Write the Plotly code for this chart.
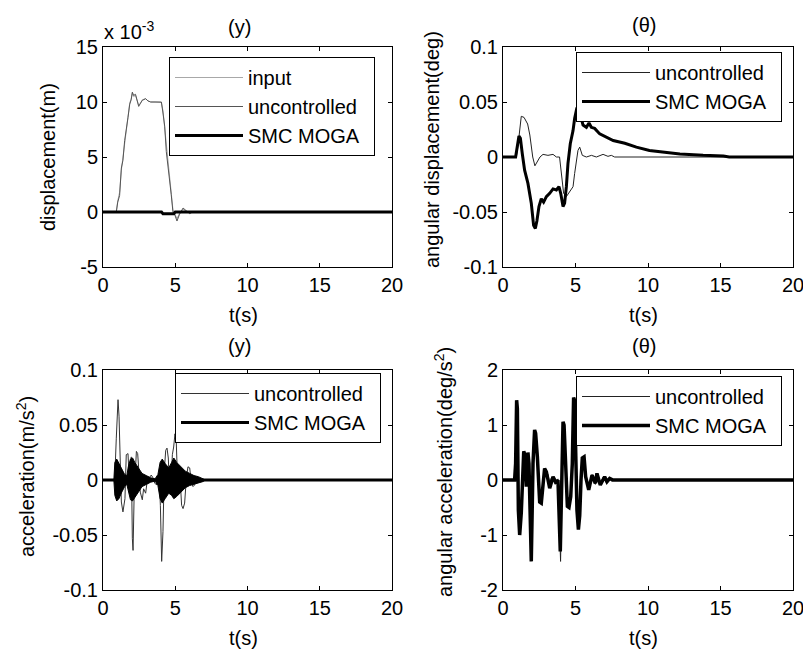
import plotly.graph_objects as go

FONT = "Liberation Sans, Arial, sans-serif"

# ---- (y) displacement, values in units of 1e-3 m ----
t_disp = [0, 0.92, 1.02, 1.15, 1.27, 1.38, 1.5, 1.61, 1.73, 1.85, 1.95, 2.03, 2.12, 2.25,
          2.47, 2.6, 2.72, 2.95, 3.11, 3.3, 3.6, 3.9, 4.04, 4.15, 4.27, 4.38, 4.5, 4.61,
          4.72, 4.84, 4.98, 5.12, 5.3, 5.54, 5.77, 6.0, 6.2, 20]
disp_input = [0, 0, 1.0, 1.8, 3.8, 4.9, 6.3, 7.6, 8.5, 9.9, 10.3, 10.8, 10.5, 10.6,
              9.7, 9.9, 10.2, 10.3, 10.1, 10.0, 10.0, 10.0, 9.95, 9.2, 7.6, 5.7, 4.1, 3.0,
              1.4, 0.2, -0.2, -0.6, -0.1, 0.25, 0.05, -0.1, 0, 0]
disp_unc = [0, 0, 0.9, 1.5, 4.0, 4.7, 6.5, 7.4, 8.6, 9.8, 10.2, 10.9, 10.6, 10.7,
            9.6, 9.9, 10.15, 10.3, 10.1, 10.0, 10.0, 10.0, 10.0, 9.0, 7.8, 5.5, 4.3, 2.8,
            1.6, 0.0, -0.3, -0.82, -0.2, 0.36, 0.1, -0.15, 0, 0]
t_disp_smc = [0, 4.05, 4.15, 4.9, 5.0, 20]
disp_smc = [0, 0, -0.15, -0.15, 0, 0]

# ---- (theta) angular displacement, deg ----
t_ang_u = [0, 0.92, 1.03, 1.26, 1.45, 1.7, 1.85, 2.05, 2.2, 2.35, 2.55, 2.76, 3.1, 3.45,
           3.68, 3.9, 4.09, 4.18, 4.37, 4.6, 4.83, 4.94, 5.17, 5.29, 5.47, 5.75, 6.1,
           6.44, 6.9, 7.24, 7.47, 7.7, 20]
ang_unc = [0, 0, 0.01, 0.037, 0.036, 0.03, 0.02, 0.0, -0.008, -0.005, 0.0, 0.0024, 0.0015,
           0.0024, 0.0, 0.0, -0.021, -0.033, -0.036, -0.032, -0.027, -0.015, 0.006, 0.009,
           0.0015, 0.0, 0.0015, 0.0, 0.0024, 0.0006, 0.0015, 0, 0]
t_ang_s = [0, 0.87, 1.1, 1.2, 1.33, 1.49, 1.72, 1.95, 2.11, 2.23, 2.34, 2.48, 2.64, 2.8,
           2.99, 3.22, 3.45, 3.68, 3.86, 3.98, 4.14, 4.25, 4.37, 4.48, 4.64, 4.83, 4.94,
           5.1, 5.3, 5.52, 5.75, 5.93, 6.09, 6.32, 6.67, 7.13, 7.6, 8.4, 9.2, 10.1, 11.0,
           12.2, 13.8, 15.2, 15.6, 20]
ang_smc = [0, 0, 0.019, 0.017, 0.003, -0.012, -0.024, -0.042, -0.062, -0.065, -0.058,
           -0.045, -0.038, -0.041, -0.036, -0.033, -0.029, -0.030, -0.027, -0.033, -0.045,
           -0.042, -0.027, -0.006, 0.012, 0.024, 0.035, 0.045, 0.04, 0.029, 0.027, 0.031,
           0.027, 0.026, 0.021, 0.018, 0.015, 0.0125, 0.009, 0.006, 0.0045, 0.0027, 0.0015,
           0.0009, 0, 0]

# ---- (y) acceleration, m/s^2 ----
t_acc_u = [0, 0.81, 0.92, 1.04, 1.11, 1.2, 1.27, 1.38, 1.52, 1.61, 1.73, 1.8, 1.89, 1.96,
           2.03, 2.08, 2.15, 2.24, 2.31, 2.4, 2.49, 2.58, 2.72, 2.81, 2.95, 3.05, 3.18,
           3.34, 3.46, 3.58, 3.74, 3.88, 3.97, 4.06, 4.15, 4.24, 4.34, 4.43, 4.52, 4.61,
           4.71, 4.8, 4.89, 4.98, 5.07, 5.17, 5.26, 5.35, 5.44, 5.54, 5.65, 5.77, 5.88,
           6.0, 6.11, 6.23, 6.34, 6.5, 6.69, 6.92, 20]
acc_unc = [0, 0, 0.038, 0.073, 0.058, 0.008, -0.02, -0.029, -0.017, 0.023, 0.024, 0.005,
           0.017, 0.021, -0.053, -0.064, -0.017, 0.017, 0.026, 0.024, 0.008, -0.011, -0.018,
           -0.008, -0.012, -0.002, 0.0015, 0.0045, 0.002, -0.003, -0.0045, 0.005, -0.023,
           -0.074, -0.047, 0.008, 0.027, 0.029, 0.02, -0.011, -0.002, 0.023, 0.03, 0.042,
           0.035, -0.005, -0.011, -0.002, -0.023, -0.026, -0.021, 0.002, 0.012, 0.011,
           -0.002, -0.006, -0.0045, 0.002, -0.0015, 0, 0]
# SMC MOGA response is a dense oscillation: upper / lower envelope
t_band = [0.75, 0.82, 0.95, 1.1, 1.3, 1.5, 1.65, 1.75, 1.9, 2.05, 2.2, 2.45, 2.7, 3.0,
          3.3, 3.6, 3.8, 3.95, 4.1, 4.3, 4.55, 4.75, 4.9, 5.1, 5.4, 5.7, 6.0, 6.3, 6.6,
          6.9, 7.1]
acc_smc_hi = [0, 0.016, 0.019, 0.015, 0.010, 0.005, 0.004, 0.012, 0.019, 0.020, 0.016,
              0.011, 0.006, 0.004, 0.002, 0.001, 0.005, 0.016, 0.019, 0.015, 0.011, 0.016,
              0.020, 0.016, 0.012, 0.008, 0.006, 0.004, 0.003, 0.0015, 0]
acc_smc_lo = [0, -0.014, -0.019, -0.017, -0.011, -0.006, -0.004, -0.011, -0.018, -0.019,
              -0.016, -0.011, -0.006, -0.004, -0.002, -0.001, -0.005, -0.017, -0.021,
              -0.017, -0.012, -0.014, -0.017, -0.015, -0.011, -0.007, -0.005, -0.004,
              -0.003, -0.0015, 0]

# ---- (theta) angular acceleration, deg/s^2 ----
t_aa_u = [0, 0.8, 0.87, 0.94, 0.99, 1.06, 1.15, 1.26, 1.43, 1.52, 1.61, 1.72, 1.79, 1.95,
          2.07, 2.18, 2.25, 2.37, 2.53, 2.64, 2.76, 2.87, 2.99, 3.1, 3.22, 3.35, 3.45, 3.6,
          3.79, 3.97, 4.14, 4.21, 4.28, 4.44, 4.55, 4.67, 4.78, 4.87, 4.94, 5.01, 5.1, 5.2,
          5.29, 5.38, 5.47, 5.59, 5.7, 5.91, 6.14, 6.37, 6.48, 6.71, 6.9, 7.1, 7.3, 7.5,
          7.8, 8.1, 20]
aa_unc = [0, 0, 0.25, 1.4, 1.25, -0.5, -0.95, -0.55, 0.5, 0.42, -0.1, 0.48, 0.28, -1.42,
          0.28, 0.88, 0.82, 0.4, -0.38, -0.4, 0.02, 0.1, 0.05, 0.1, -0.05, 0.05, 0.0, -0.08,
          0.02, -1.48, 1.0, 0.95, 0.5, -0.45, -0.48, -0.28, 0.28, 1.45, 1.4, 0.28, -0.5,
          -0.85, -0.6, 0.02, 0.38, 0.4, 0.05, -0.15, 0.1, -0.08, 0.1, -0.06, 0.05, -0.04,
          0.03, -0.02, 0.01, 0, 0]
t_aa_s = [0, 0.8, 0.87, 0.94, 0.99, 1.06, 1.15, 1.26, 1.43, 1.52, 1.61, 1.72, 1.79, 1.95,
          2.07, 2.18, 2.25, 2.37, 2.53, 2.64, 2.76, 2.87, 2.99, 3.22, 3.45, 3.68, 3.79,
          3.95, 4.14, 4.21, 4.28, 4.44, 4.55, 4.67, 4.78, 4.87, 4.94, 5.01, 5.1, 5.2, 5.29,
          5.38, 5.47, 5.59, 5.7, 5.91, 6.14, 6.37, 6.48, 6.71, 7.01, 7.17, 7.36, 7.59, 20]
aa_smc = [0, 0, 0.3, 1.45, 1.3, -0.55, -1.0, -0.6, 0.52, 0.45, -0.12, 0.5, 0.3, -1.48,
          0.3, 0.91, 0.85, 0.42, -0.4, -0.42, 0.0, 0.21, 0.15, -0.15, 0.06, -0.06, 0.0,
          -1.3, 1.06, 1.0, 0.55, -0.48, -0.5, -0.3, 0.3, 1.5, 1.45, 0.3, -0.55, -0.9, -0.65,
          0.0, 0.4, 0.42, 0.06, -0.18, 0.09, -0.06, 0.12, -0.09, 0.06, -0.03, 0.03, 0, 0]

GRAY_IN = "#a8a8a8"
GRAY_UN = "#555555"
PAD = "\u00a0\u00a0"  # a bit of room right of the legend text

fig = go.Figure()

# subplot 1
fig.add_trace(go.Scatter(x=t_disp, y=disp_input, mode="lines", name="input",
                         line=dict(color=GRAY_IN, width=1), xaxis="x", yaxis="y", legend="legend"))
fig.add_trace(go.Scatter(x=t_disp, y=disp_unc, mode="lines", name="uncontrolled" + PAD,
                         line=dict(color=GRAY_UN, width=1), xaxis="x", yaxis="y", legend="legend"))
fig.add_trace(go.Scatter(x=t_disp_smc, y=disp_smc, mode="lines", name="SMC MOGA",
                         line=dict(color="black", width=3), xaxis="x", yaxis="y", legend="legend"))

# subplot 2
fig.add_trace(go.Scatter(x=t_ang_u, y=ang_unc, mode="lines", name="uncontrolled" + PAD,
                         line=dict(color="#222222", width=1), xaxis="x2", yaxis="y2", legend="legend2"))
fig.add_trace(go.Scatter(x=t_ang_s, y=ang_smc, mode="lines", name="SMC MOGA",
                         line=dict(color="black", width=3), xaxis="x2", yaxis="y2", legend="legend2"))

# subplot 3
fig.add_trace(go.Scatter(x=t_acc_u, y=acc_unc, mode="lines", name="uncontrolled" + PAD,
                         line=dict(color="#333333", width=1), xaxis="x3", yaxis="y3", legend="legend3"))
fig.add_trace(go.Scatter(x=[0, 20], y=[0, 0], mode="lines", name="SMC MOGA",
                         line=dict(color="black", width=3), xaxis="x3", yaxis="y3", legend="legend3"))
fig.add_trace(go.Scatter(x=t_band, y=acc_smc_hi, mode="lines", showlegend=False,
                         line=dict(color="black", width=1), xaxis="x3", yaxis="y3"))
fig.add_trace(go.Scatter(x=t_band, y=acc_smc_lo, mode="lines", showlegend=False, fill="tonexty",
                         fillcolor="black", line=dict(color="black", width=1), xaxis="x3", yaxis="y3"))

# subplot 4
fig.add_trace(go.Scatter(x=t_aa_u, y=aa_unc, mode="lines", name="uncontrolled" + PAD,
                         line=dict(color="#222222", width=1), xaxis="x4", yaxis="y4", legend="legend4"))
fig.add_trace(go.Scatter(x=t_aa_s, y=aa_smc, mode="lines", name="SMC MOGA",
                         line=dict(color="black", width=3.5), xaxis="x4", yaxis="y4", legend="legend4"))

W, H = 803, 650


def px(v):
    return v / W


def py(v):
    return 1 - v / H


ax = dict(showgrid=False, zeroline=False, showline=True, linecolor="black", linewidth=1,
          mirror="ticks", ticks="inside", ticklen=4, tickcolor="black", automargin=False,
          ticklabeloverflow="allow", tickfont=dict(size=20, color="black", family=FONT))
xt = dict(range=[0, 20], tickvals=[0, 5, 10, 15, 20], ticktext=["0", "5", "10", "15", "20"])

xl = [px(103), px(392)]
xr = [px(503), px(793)]
yt = [py(267), py(47)]
yb = [py(590), py(370)]

fig.update_layout(
    xaxis=dict(ax, domain=xl, anchor="y", **xt),
    yaxis=dict(ax, domain=yt, anchor="x", range=[-5, 15], tickvals=[-5, 0, 5, 10, 15],
               ticktext=["-5", "0", "5", "10", "15"]),
    xaxis2=dict(ax, domain=xr, anchor="y2", **xt),
    yaxis2=dict(ax, domain=yt, anchor="x2", range=[-0.1, 0.1],
                tickvals=[-0.1, -0.05, 0, 0.05, 0.1], ticktext=["-0.1", "-0.05", "0", "0.05", "0.1"]),
    xaxis3=dict(ax, domain=xl, anchor="y3", **xt),
    yaxis3=dict(ax, domain=yb, anchor="x3", range=[-0.1, 0.1],
                tickvals=[-0.1, -0.05, 0, 0.05, 0.1], ticktext=["-0.1", "-0.05", "0", "0.05", "0.1"]),
    xaxis4=dict(ax, domain=xr, anchor="y4", **xt),
    yaxis4=dict(ax, domain=yb, anchor="x4", range=[-2, 2],
                tickvals=[-2, -1, 0, 1, 2], ticktext=["-2", "-1", "0", "1", "2"]),
)


def leg(x, y):
    return dict(x=px(x), y=py(y), xanchor="left", yanchor="top", bgcolor="white",
                bordercolor="black", borderwidth=1, itemwidth=68, tracegroupgap=0,
                traceorder="normal", font=dict(size=20, color="black", family=FONT))


fig.update_layout(legend=leg(169, 57), legend2=leg(576, 52), legend3=leg(175, 373),
                  legend4=leg(576, 376))

notes = [
    ("(y)", 240, 27, 0), ("(θ)", 644, 25, 0), ("(y)", 240, 346, 0), ("(θ)", 644, 346, 0),
    ("t(s)", 243, 315, 0), ("t(s)", 643, 315, 0), ("t(s)", 243, 638, 0), ("t(s)", 643, 638, 0),
    ("displacement(m)", 48, 157, -90), ("angular displacement(deg)", 432, 150, -90),
    ("acceleration(m/s<sup>2</sup>)", 25, 477, -90),
    ("angular acceleration(deg/s<sup>2</sup>)", 443, 472, -90),
]
annots = []
for txt, x, y, ang in notes:
    annots.append(dict(text=txt, x=px(x), y=py(y), xref="paper", yref="paper", showarrow=False,
                       xanchor="center", yanchor="middle", textangle=ang,
                       font=dict(size=20, color="black", family=FONT)))
annots.append(dict(text="x 10<sup>-3</sup>", x=px(102), y=py(30), xref="paper", yref="paper",
                   showarrow=False, xanchor="left", yanchor="middle",
                   font=dict(size=20, color="black", family=FONT)))

fig.update_layout(width=W, height=H, autosize=False,
                  margin=dict(l=0, r=0, t=0, b=0, autoexpand=False),
                  paper_bgcolor="white", plot_bgcolor="white", annotations=annots,
                  font=dict(family=FONT, color="black"))

fig.write_html("out.html", config={"displayModeBar": False},
               post_script="document.body.style.margin='0';")
